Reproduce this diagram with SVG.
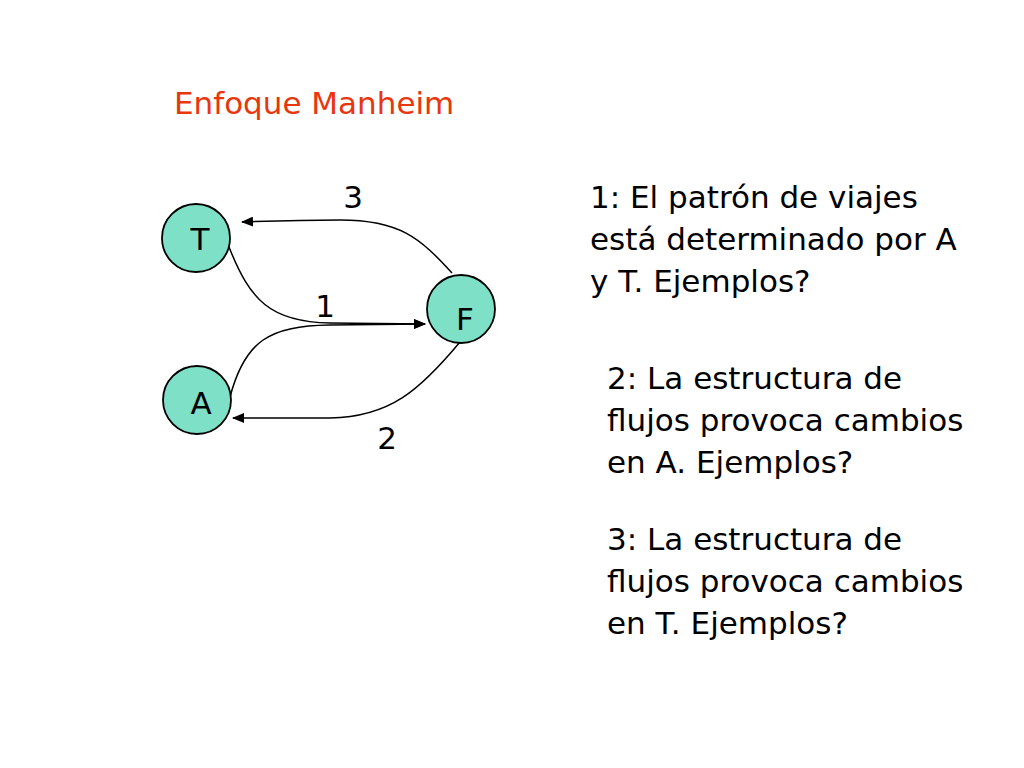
<svg xmlns="http://www.w3.org/2000/svg" width="1024" height="768" viewBox="0 0 1024 768">
<style>
.n{fill:#7ee0c6;stroke:#000;stroke-width:1.8}
.t{font-family:"DejaVu Sans",sans-serif;font-size:31px;fill:#000}
.c{fill:none;stroke:#000;stroke-width:1.5}
</style>
<defs><marker id="ah" markerWidth="12" markerHeight="10" refX="11" refY="5" orient="auto" markerUnits="userSpaceOnUse"><path d="M0,0 L12,5 L0,10 z" fill="#000"/></marker></defs>
<rect width="1024" height="768" fill="#fff"/>
<text x="174" y="114" class="t" style="fill:#e8360e">Enfoque Manheim</text>
<g id="connectors">
<path class="c" marker-end="url(#ah)" d="M452,273 C420,238 400,220 340,220 C300,220 270,221 242,222"/>
<path class="c" marker-end="url(#ah)" d="M229,247 C250,300 270,322 330,323 L425,324"/>
<path class="c" marker-end="url(#ah)" d="M230,397 C245,340 270,326 330,325 L425,324"/>
<path class="c" marker-end="url(#ah)" d="M460,342 C420,390 390,417 330,418 L233,418"/>
</g>
<g id="T"><circle class="n" cx="196" cy="238" r="34"/><text x="200" y="250" class="t" text-anchor="middle">T</text></g>
<g id="F"><circle class="n" cx="461" cy="309" r="34"/><text x="465" y="330" class="t" text-anchor="middle">F</text></g>
<g id="A"><circle class="n" cx="197" cy="400" r="34"/><text x="201" y="414" class="t" text-anchor="middle">A</text></g>
<text x="353" y="208" class="t" text-anchor="middle">3</text>
<text x="325" y="317" class="t" text-anchor="middle">1</text>
<text x="387" y="449" class="t" text-anchor="middle">2</text>
<g class="t">
<text x="590" y="208">1: El patrón de viajes</text>
<text x="590" y="250">está determinado por A</text>
<text x="590" y="292">y T. Ejemplos?</text>
<text x="607" y="389">2: La estructura de</text>
<text x="607" y="431">flujos provoca cambios</text>
<text x="607" y="473">en A. Ejemplos?</text>
<text x="607" y="550">3: La estructura de</text>
<text x="607" y="592">flujos provoca cambios</text>
<text x="607" y="634">en T. Ejemplos?</text>
</g>
</svg>
